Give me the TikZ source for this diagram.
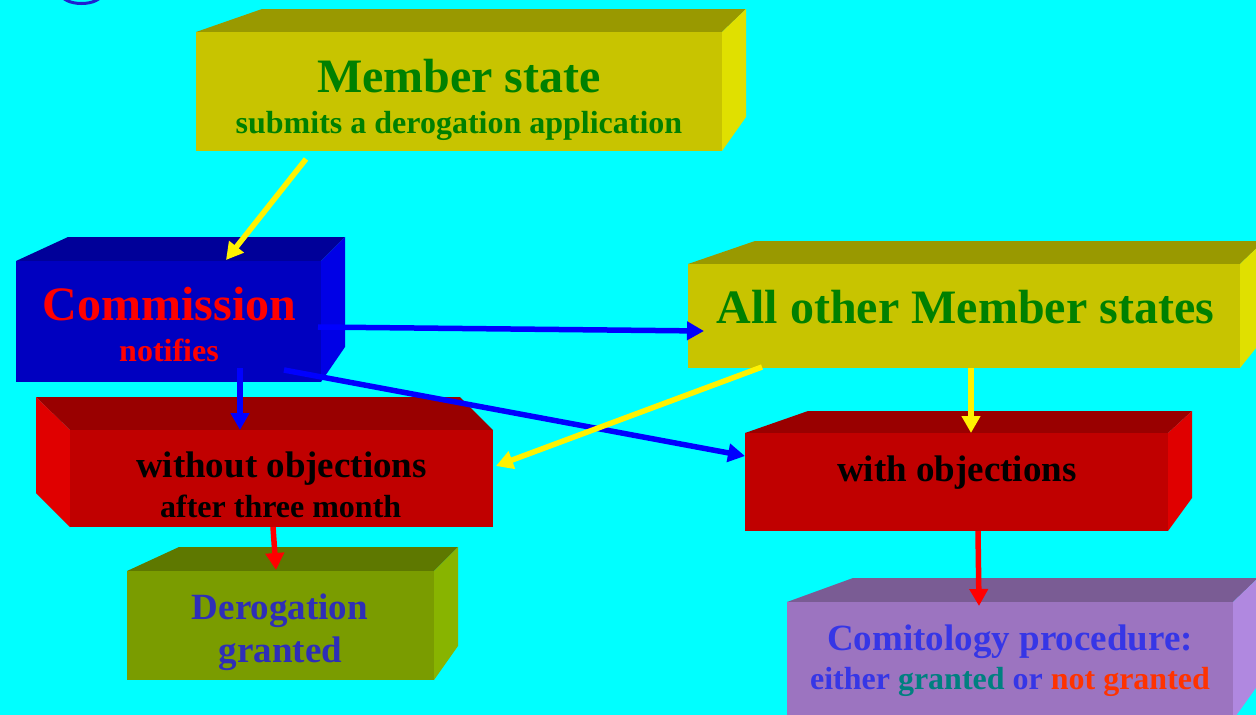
\documentclass[tikz,border=0pt]{standalone}
\usepackage{fontspec}
\setmainfont{Liberation Serif}
\usetikzlibrary{arrows.meta}
\definecolor{bgc}{HTML}{00FFFF}
\definecolor{yfront}{HTML}{C8C400}
\definecolor{ytop}{HTML}{999900}
\definecolor{yside}{HTML}{E0E000}
\definecolor{bfront}{HTML}{0000C0}
\definecolor{btop}{HTML}{000099}
\definecolor{bside}{HTML}{0000E6}
\definecolor{rfront}{HTML}{C00000}
\definecolor{rtop}{HTML}{990000}
\definecolor{rside}{HTML}{E00000}
\definecolor{gfront}{HTML}{7A9C00}
\definecolor{gtop}{HTML}{5E7800}
\definecolor{gside}{HTML}{88B400}
\definecolor{pfront}{HTML}{9C74C0}
\definecolor{ptop}{HTML}{7A5C94}
\definecolor{pside}{HTML}{B088E0}
\definecolor{txtgreen}{HTML}{008000}
\definecolor{txtblue}{HTML}{2E2EB8}
\definecolor{txtblueb}{HTML}{3636E6}
\definecolor{txtteal}{HTML}{008080}
\definecolor{txtorange}{HTML}{FF3300}
\definecolor{glyphblue}{HTML}{2020D0}
\newcommand\Fsz[1]{\fontsize{#1}{#1}\selectfont}
\begin{document}
\begin{tikzpicture}[x=1pt,y=-1pt,
  face/.style={draw=none, inner sep=0pt, outer sep=0pt},
  lbl/.style={anchor=base, inner sep=0pt, outer sep=0pt, font=\bfseries},
  conn/.style={line width=5.5pt, -{Triangle[length=17pt,width=18pt]}},
]
\useasboundingbox (0,0) rectangle (1256,715);
\fill[bgc] (0,0) rectangle (1256,715);
\clip (0,0) rectangle (1256,715);

% fragment of a title glyph at the top edge
\draw[line width=3pt, glyphblue] (81.5,-6) ellipse [x radius=20, y radius=9.5];

% Box 1: Member state
\fill[ytop] (196,32) -- (262,9) -- (746,9) -- (722,32) -- cycle;
\fill[yside] (722,32) -- (746,9) -- (746,117) -- (722,151) -- cycle;
\node[face, fill=yfront, minimum width=526pt, minimum height=119pt] (ms) at (459,91.5) {};
\node[lbl, text=txtgreen, font=\bfseries\Fsz{48}] (ms1) at (459,92) {Member state};
\node[lbl, text=txtgreen, font=\bfseries\Fsz{32}] (ms2) at (459,133) {submits a derogation application};

% Box 2: Commission
\fill[btop] (16,261) -- (68,237) -- (345,237) -- (321,261) -- cycle;
\fill[bside] (321,261) -- (345,237) -- (345,347) -- (321,382) -- cycle;
\node[face, fill=bfront, minimum width=305pt, minimum height=121pt] (cm) at (168.5,321.5) {};
\node[lbl, text=red, font=\bfseries\Fsz{48}] (cm1) at (169.5,320) {Commission};
\node[lbl, text=red, font=\bfseries\Fsz{32}] (cm2) at (169,361) {notifies};

% Box 3: All other Member states
\fill[ytop] (688,264) -- (755,241) -- (1264,241) -- (1240,264) -- cycle;
\fill[yside] (1240,264) -- (1264,241) -- (1264,338) -- (1240,368) -- cycle;
\node[face, fill=yfront, minimum width=552pt, minimum height=104pt] (ao) at (964,316) {};
\node[lbl, text=txtgreen, font=\bfseries\Fsz{48}] (ao1) at (965.5,323) {All other Member states};

% Box 4: without objections
\fill[rtop] (36,397) -- (460,397) -- (493,430) -- (70,430) -- cycle;
\fill[rside] (36,397) -- (70,430) -- (70,527) -- (36,493) -- cycle;
\node[face, fill=rfront, minimum width=423pt, minimum height=97pt] (wo) at (281.5,478.5) {};
\node[lbl, text=black, font=\bfseries\Fsz{37}] (wo1) at (281.5,477) {without objections};
\node[lbl, text=black, font=\bfseries\Fsz{32}] (wo2) at (280.7,517) {after three month};

% Box 5: with objections
\fill[rtop] (745,433) -- (808,411) -- (1192,411) -- (1168,433) -- cycle;
\fill[rside] (1168,433) -- (1192,411) -- (1192,498) -- (1168,531) -- cycle;
\node[face, fill=rfront, minimum width=423pt, minimum height=98pt] (wi) at (956.5,482) {};
\node[lbl, text=black, font=\bfseries\Fsz{37}] (wi1) at (957,481) {with objections};

% Box 6: Derogation granted
\fill[gtop] (127,571) -- (179,547) -- (458,547) -- (434,571) -- cycle;
\fill[gside] (434,571) -- (458,547) -- (458,646) -- (434,680) -- cycle;
\node[face, fill=gfront, minimum width=307pt, minimum height=109pt] (dg) at (280.5,625.5) {};
\node[lbl, text=txtblue, font=\bfseries\Fsz{37}] (dg1) at (280,619) {Derogation};
\node[lbl, text=txtblue, font=\bfseries\Fsz{37}] (dg2) at (280.5,662) {granted};

% Box 7: Comitology procedure
\fill[ptop] (787,602) -- (853,578) -- (1258,578) -- (1233,602) -- cycle;
\fill[pside] (1233,602) -- (1258,578) -- (1258,685) -- (1233,720) -- cycle;
\node[face, fill=pfront, minimum width=446pt, minimum height=118pt] (cp) at (1010,661) {};
\node[lbl, text=txtblueb, font=\bfseries\Fsz{37}] (cp1) at (1010,650) {Comitology procedure:};
\node[lbl, font=\bfseries\Fsz{32}] (cp2) at (1010,689) {\textcolor{txtblueb}{either} \textcolor{txtteal}{granted} \textcolor{txtblueb}{or} \textcolor{txtorange}{not granted}};

% connector free ends
\coordinate (s1) at (306,159);
\coordinate (s2) at (318,327);
\coordinate (s3) at (240,368);
\coordinate (s4) at (284,370);
\coordinate (s5) at (762,367);
\coordinate (s6) at (971,368);
\coordinate (s7) at (273,527);
\coordinate (s8) at (978,531);

% connectors
\draw[conn, yellow] (s1) -- ([xshift=210pt,yshift=1pt]cm.north west);
\draw[conn, blue] (s2) -- ([xshift=16pt,yshift=-15pt]ao.west);
\draw[conn, blue] (s3) -- ([xshift=170pt]wo.north west);
\draw[conn, blue] (s4) -- ([yshift=26pt]wi.west);
\draw[conn, yellow] (s5) -- ([xshift=3pt,yshift=12.5pt]wo.east);
\draw[conn, yellow] (s6) -- ([xshift=226pt]wi.north west);
\draw[conn, red] (s7) -- ([xshift=149pt,yshift=1pt]dg.north west);
\draw[conn, red] (s8) -- ([xshift=192pt,yshift=-4pt]cp.north west);
\end{tikzpicture}
\end{document}
